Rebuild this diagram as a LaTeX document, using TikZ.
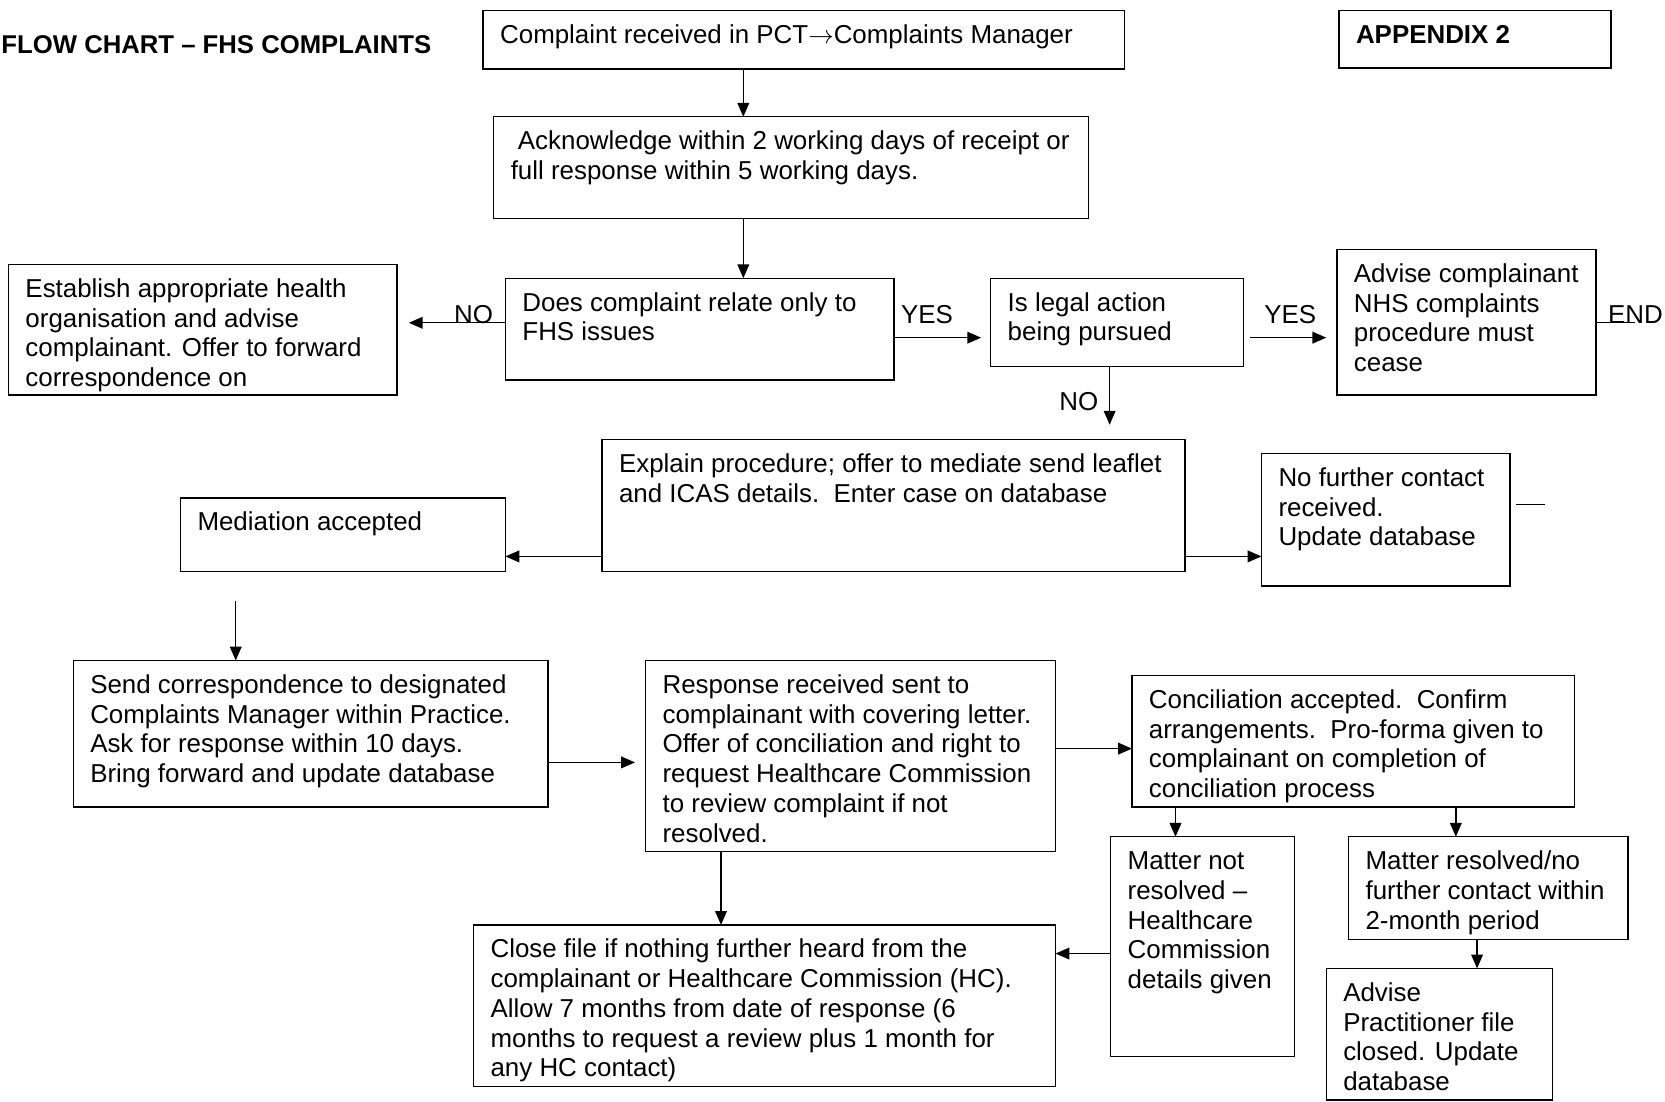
\documentclass[tikz,border=0pt]{standalone}
\usepackage{fontspec}
\setmainfont{Liberation Sans}
\usetikzlibrary{arrows.meta}
\newcommand\mybox[6]{%
  \node[box, anchor=north west, minimum width={(#4-#2)*0.5pt}, minimum height={(#5-#3)*0.5pt}] (#1) at (#2,#3) {};
  \node[txt] (#1t) at ([xshift=8pt,yshift=-5.5pt]#1.north west) {\rule{0pt}{10pt}#6};
}
\begin{document}
\begin{tikzpicture}[x=0.5pt,y=-0.5pt,
  box/.style={draw, line width=0.65pt, inner sep=0pt, outer sep=0pt, rectangle},
  txt/.style={inner sep=0pt, outer sep=0pt, align=left, anchor=north west, font=\fontsize{12.2}{14}\selectfont},
  lbl/.style={inner sep=0pt, anchor=base, font=\fontsize{12.2}{14}\selectfont},
  arr/.style={line width=0.65pt, -{Triangle[length=6.5pt,width=5.5pt]}},
  ln/.style={line width=0.65pt}]
\useasboundingbox (0,0) rectangle (1568,1037);

\node[inner sep=0pt, anchor=base west, font=\fontsize{12.1}{14}\selectfont\bfseries] (title) at (1,50) {FLOW CHART – FHS COMPLAINTS};

\mybox{A}{455}{10}{1059}{65}{Complaint received in PCT$\rightarrow$Complaints Manager}
\mybox{APP}{1261}{10}{1517}{64}{\bfseries APPENDIX 2}
\mybox{B}{465}{110}{1025}{206}{\ Acknowledge within 2 working days of receipt or\\full response within 5 working days.}
\mybox{C}{476}{262}{842}{358}{Does complaint relate only to\\FHS issues}
\mybox{D}{8}{249}{374}{372}{Establish appropriate health\\organisation and advise\\complainant. Offer to forward\\correspondence on}
\mybox{E}{933}{262}{1171}{345}{Is legal action\\being pursued}
\mybox{F}{1259}{235}{1503}{372}{Advise complainant\\NHS complaints\\procedure must\\cease}
\mybox{G}{567}{414}{1116}{538}{Explain procedure; offer to mediate send leaflet\\and ICAS details.\ \ Enter case on database}
\mybox{H}{170}{469}{476}{538}{Mediation accepted}
\mybox{I}{1188}{427}{1422}{552}{No further contact\\received.\\Update database}
\mybox{J}{69}{622}{516}{760}{Send correspondence to designated\\Complaints Manager within Practice.\\Ask for response within 10 days.\\Bring forward and update database}
\mybox{K}{608}{622}{994}{802}{Response received sent to\\complainant with covering letter.\\Offer of conciliation and right to\\request Healthcare Commission\\to review complaint if not\\resolved.}
\mybox{L}{1066}{636}{1483}{760}{Conciliation accepted.\ \ Confirm\\arrangements.\ \ Pro-forma given to\\complainant on completion of\\conciliation process}
\mybox{M}{1046}{788}{1219}{995}{Matter not\\resolved –\\Healthcare\\Commission\\details given}
\mybox{N}{1270}{788}{1533}{885}{Matter resolved/no\\further contact within\\2-month period}
\mybox{O}{1249}{912}{1462}{1036}{Advise\\Practitioner file\\closed. Update\\database}
\mybox{P}{446}{871}{994}{1023}{Close file if nothing further heard from the\\complainant or Healthcare Commission (HC).\\Allow 7 months from date of response (6\\months to request a review plus 1 month for\\any HC contact)}

% connectors
\draw[arr] (A.south -| 700,0) -- (B.north -| 700,0);
\draw[arr] (B.south -| 700,0) -- (C.north -| 700,0);
\draw[arr, shorten >=5.5pt] (C.west |- 0,304) -- (D.east |- 0,304);
\node[lbl] (no1) at (446,305) {NO};
\draw[arr, shorten >=4.5pt] (C.east |- 0,318) -- (E.west |- 0,318);
\node[lbl] (yes1) at (873,305) {YES};
\draw[arr, shorten <=3pt, shorten >=5pt] (E.east |- 0,318) -- (F.west |- 0,318);
\node[lbl] (yes2) at (1215,305) {YES};
\draw[ln] (F.east |- 0,304) -- (1540,304);
\node[lbl, anchor=base west] (endl) at (1514,305) {END};
\draw[arr, shorten >=7pt] (E.south -| 1045,0) -- (G.north -| 1045,0);
\node[lbl] (no2) at (1016,387) {NO};
\draw[arr] (G.west |- 0,524) -- (H.east |- 0,524);
\draw[arr] (G.east |- 0,524) -- (I.west |- 0,524);
\draw[ln, shorten <=3pt] (I.east |- 0,475) -- (1455,475);
\coordinate (hj) at (222,566);
\draw[arr] (hj) -- (J.north -| hj);
\draw[arr, shorten >=5pt] (J.east |- 0,718) -- (K.west |- 0,718);
\draw[arr] (K.east |- 0,705) -- (L.west |- 0,705);
\draw[arr] (L.south -| 1107,0) -- (M.north -| 1107,0);
\draw[arr] (L.south -| 1371,0) -- (N.north -| 1371,0);
\draw[arr] (N.south -| 1391,0) -- (O.north -| 1391,0);
\draw[arr] (K.south -| 679,0) -- (P.north -| 679,0);
\draw[arr] (M.west |- 0,898) -- (P.east |- 0,898);
\end{tikzpicture}
\end{document}
